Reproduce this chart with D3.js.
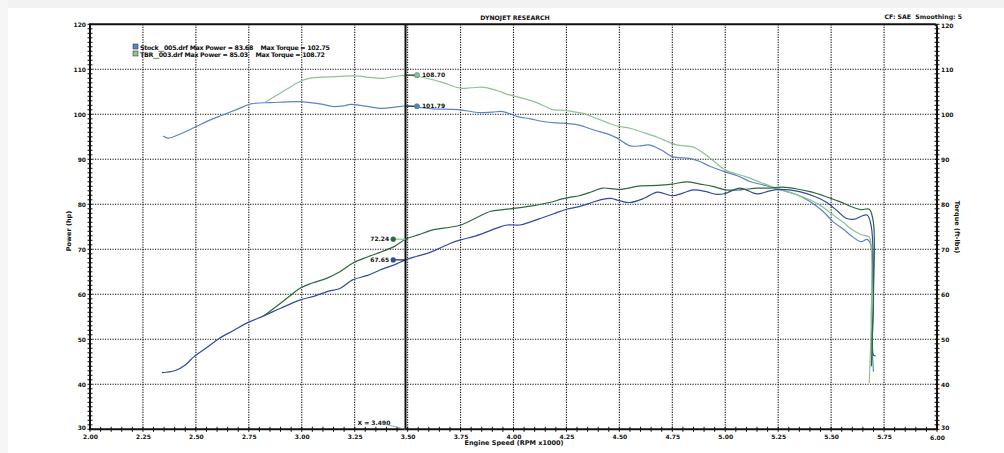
<!DOCTYPE html>
<html><head><meta charset="utf-8">
<script src="https://cdn.jsdelivr.net/npm/d3@7"></script>
<style>
html,body{margin:0;padding:0;background:#fff;}
svg{display:block;font-family:"DejaVu Sans",sans-serif;font-weight:bold;}
</style></head>
<body><svg id="c" width="1004" height="453"></svg>
<script>
// ---------- DATA ----------
const xTicks = [2.00,2.25,2.50,2.75,3.00,3.25,3.50,3.75,4.00,4.25,4.50,4.75,5.00,5.25,5.50,5.75,6.00];
const yTicks = [30,40,50,60,70,80,90,100,110,120];

const stockTorqueRpm = [2.345,2.37,2.42,2.49,2.56,2.63,2.70,2.76,2.85,2.91,2.98,3.04,3.10,3.15,3.20,3.23,3.30,3.38,3.44,3.50,3.56,3.62,3.70,3.75,3.83,3.90,3.95,4.02,4.08,4.14,4.20,4.25,4.31,4.38,4.44,4.49,4.55,4.60,4.64,4.70,4.75,4.83,4.88,4.93,5.00,5.06,5.12,5.19,5.26,5.33,5.40,5.46,5.51,5.56,5.59,5.64,5.67,5.69,5.69,5.695,5.70];
const stockTorque = [95.2,94.7,95.5,97.0,98.6,99.9,101.2,102.3,102.6,102.7,102.8,102.6,102.2,101.7,101.9,102.2,101.8,101.3,101.6,101.9,101.5,101.2,101.1,101.0,100.4,100.5,100.6,99.5,99.0,98.4,98.1,98.0,97.6,96.5,95.7,94.7,93.0,93.0,93.2,92.0,90.6,90.2,89.5,88.4,87.2,86.3,85.0,84.2,83.2,82.3,80.6,78.5,76.1,74.4,73.2,71.7,72.2,70.6,55.0,47.0,42.8];

const tbrTorqueRpm = [2.83,2.88,2.93,2.98,3.02,3.07,3.13,3.20,3.27,3.32,3.38,3.44,3.50,3.55,3.60,3.67,3.75,3.80,3.86,3.92,3.98,4.05,4.11,4.19,4.24,4.28,4.33,4.38,4.44,4.49,4.55,4.61,4.68,4.77,4.85,4.93,5.00,5.05,5.10,5.17,5.24,5.32,5.40,5.46,5.51,5.56,5.59,5.64,5.68,5.69,5.69,5.68];
const tbrTorque = [102.8,104.2,105.6,107.0,107.8,108.2,108.3,108.5,108.5,108.2,108.0,108.4,108.7,108.4,107.9,107.0,105.8,105.9,106.0,105.3,104.3,103.5,102.6,101.0,100.9,100.6,100.2,99.3,98.2,97.4,96.9,96.0,94.9,93.2,92.7,90.2,87.6,86.8,86.1,84.8,83.6,82.4,81.0,79.4,77.6,75.9,74.7,73.3,72.7,70.0,55.0,40.3];

const stockPowerRpm = [2.34,2.40,2.45,2.49,2.55,2.61,2.68,2.74,2.82,2.90,2.99,3.06,3.12,3.18,3.24,3.31,3.38,3.44,3.49,3.54,3.60,3.65,3.70,3.75,3.81,3.86,3.92,3.97,4.03,4.08,4.13,4.19,4.25,4.31,4.37,4.42,4.46,4.50,4.55,4.62,4.68,4.75,4.80,4.85,4.91,4.96,5.00,5.07,5.15,5.21,5.26,5.35,5.42,5.48,5.53,5.57,5.61,5.64,5.67,5.69,5.70,5.70,5.71];
const stockPower = [42.6,43.0,44.3,46.1,48.1,50.2,52.0,53.6,55.2,56.9,58.7,59.6,60.6,61.3,63.2,64.2,65.6,66.6,67.65,68.4,69.2,70.2,71.3,72.1,72.8,73.6,74.7,75.4,75.4,76.1,76.9,77.9,78.9,79.5,80.4,81.1,81.3,80.8,80.4,81.4,82.7,81.9,82.5,83.2,82.8,82.2,82.4,83.6,82.3,83.0,83.3,82.8,81.8,80.4,78.5,76.9,76.7,77.3,77.6,75.0,60.0,46.5,46.3];

const tbrPowerRpm = [2.82,2.88,2.94,2.99,3.05,3.12,3.18,3.24,3.31,3.38,3.44,3.49,3.55,3.62,3.70,3.75,3.82,3.89,3.95,4.00,4.08,4.17,4.23,4.27,4.31,4.37,4.42,4.50,4.60,4.68,4.75,4.82,4.88,4.94,5.00,5.07,5.15,5.21,5.27,5.34,5.40,5.47,5.54,5.60,5.64,5.68,5.70,5.70,5.69];
const tbrPower = [55.2,57.3,59.5,61.3,62.5,63.6,65.0,66.9,68.3,69.5,70.7,72.24,73.2,74.3,74.9,75.4,76.9,78.4,78.8,79.1,79.6,80.4,81.2,81.6,81.9,82.8,83.6,83.3,84.1,84.2,84.5,85.0,84.5,84.0,83.2,83.2,83.6,83.6,83.8,83.4,82.8,81.8,80.6,79.4,78.8,78.9,75.8,60.0,44.0];

const legendLines = ["Stock__005.drf Max Power = 83.68    Max Torque = 102.75",
                     "TBR__003.drf Max Power = 85.03    Max Torque = 108.72"];
const cursorX = 3.490;
const torqueReadouts = [108.70, 101.79];
const powerReadouts = [72.24, 67.65];

// ---------- STYLE ----------
const C = {stockT:"#5a85c6", tbrT:"#8cc48e", stockP:"#2f4d9f", tbrP:"#2d6a3b"};

const svg = d3.select("#c");
svg.append("rect").attr("x",0).attr("y",0).attr("width",1004).attr("height",8).attr("fill","#f2f2f2");
svg.append("rect").attr("x",0).attr("y",0).attr("width",8).attr("height",453).attr("fill","#f6f6f6");

const L=90, R=937, T=24.3, B=429.3;
const x = d3.scaleLinear().domain([2,6]).range([L,R]);
const y = d3.scaleLinear().domain([30,120]).range([B,T]);

// grid
const g = svg.append("g");
g.selectAll(".vg").data(xTicks.slice(1,-1)).join("line")
  .attr("x1",d=>x(d)).attr("x2",d=>x(d)).attr("y1",T).attr("y2",B)
  .attr("stroke","#111").attr("stroke-width",1.1).attr("stroke-dasharray","1.2,1.3");
g.selectAll(".hg").data(yTicks.slice(1,-1)).join("line")
  .attr("x1",L).attr("x2",R).attr("y1",d=>y(d)).attr("y2",d=>y(d))
  .attr("stroke","#111").attr("stroke-width",1.1).attr("stroke-dasharray","1.2,1.3");

// axes
const fmt2 = d3.format(".2f");
const axB = svg.append("g").attr("transform",`translate(0,${B})`)
  .call(d3.axisBottom(x).tickValues(xTicks).tickFormat(fmt2).tickSize(0).tickPadding(4));
const axL = svg.append("g").attr("transform",`translate(${L},0)`)
  .call(d3.axisLeft(y).tickValues(yTicks).tickSize(0).tickPadding(4));
const axR = svg.append("g").attr("transform",`translate(${R},0)`)
  .call(d3.axisRight(y).tickValues(yTicks).tickSize(0).tickPadding(4));
[axB,axL,axR].forEach(a=>{
  a.select(".domain").remove();
  a.selectAll("text").attr("font-family","DejaVu Sans").attr("font-weight","bold").attr("font-size",6).attr("fill","#111");
});
axB.selectAll("text").attr("dy","0.9em");
axR.selectAll("text").attr("dy",d=>d===120?"0.45em":(d===30?"0.1em":"0.32em"));
axL.selectAll("text").attr("dy",d=>d===30?"0.1em":"0.32em");
axB.selectAll(".tick").filter(d=>d===6).select("text").attr("dy","1.2em");

// minor ticks (crossing)
const minorY = d3.range(30,121,1);
const minorX = d3.range(2,6.001,0.05);
svg.append("g").selectAll("line").data(minorY).join("line")
  .attr("x1",L-2.5).attr("x2",L+2.5).attr("y1",d=>y(d)).attr("y2",d=>y(d)).attr("stroke","#111").attr("stroke-width",1);
svg.append("g").selectAll("line").data(minorY).join("line")
  .attr("x1",R-2.5).attr("x2",R+2.5).attr("y1",d=>y(d)).attr("y2",d=>y(d)).attr("stroke","#111").attr("stroke-width",1);
svg.append("g").selectAll("line").data(minorX).join("line")
  .attr("x1",d=>x(d)).attr("x2",d=>x(d)).attr("y1",B-2.5).attr("y2",B+2.5).attr("stroke","#111").attr("stroke-width",1);

// frame
svg.append("path").attr("d",`M${L},${B}V${T}H${R-3}Q${R},${T} ${R},${T+3}V${B}H${L}Z`)
  .attr("fill","none").attr("stroke","#111").attr("stroke-width",2);

// curves
const line = d3.line().x(d=>x(d[0])).y(d=>y(d[1])).curve(d3.curveCatmullRom.alpha(0.5));
const series = [
  [stockTorqueRpm, stockTorque, C.stockT],
  [tbrTorqueRpm, tbrTorque, C.tbrT],
  [stockPowerRpm, stockPower, C.stockP],
  [tbrPowerRpm, tbrPower, C.tbrP]
];
series.forEach(([xs,vs,col])=>{
  svg.append("path").datum(xs.map((v,i)=>[v,vs[i]])).attr("d",line)
    .attr("fill","none").attr("stroke",col).attr("stroke-width",1.2).attr("stroke-linejoin","round");
});

// cursor
svg.append("line").attr("x1",x(cursorX)).attr("x2",x(cursorX)).attr("y1",T).attr("y2",B)
  .attr("stroke","#111").attr("stroke-width",2);

// readouts: torque to the right
const tCols=[C.tbrT,C.stockT], pCols=[C.tbrP,C.stockP];
torqueReadouts.forEach((v,i)=>{
  const mx = x(3.544);
  svg.append("line").attr("x1",x(cursorX)).attr("x2",mx).attr("y1",y(v)).attr("y2",y(v)).attr("stroke","#333").attr("stroke-width",1.2);
  svg.append("circle").attr("cx",mx).attr("cy",y(v)).attr("r",2.6).attr("fill",tCols[i]).attr("stroke","#3a5a6a").attr("stroke-width",0.5);
  svg.append("text").attr("x",mx+5).attr("y",y(v)+2.2).attr("font-size",6).attr("fill","#111").text(fmt2(v));
});
powerReadouts.forEach((v,i)=>{
  const mx = x(3.432);
  svg.append("line").attr("x1",mx).attr("x2",x(cursorX)).attr("y1",y(v)).attr("y2",y(v)).attr("stroke",i===0?C.tbrT:"#222").attr("stroke-width",1.2);
  svg.append("circle").attr("cx",mx).attr("cy",y(v)).attr("r",2.6).attr("fill",pCols[i]);
  svg.append("text").attr("x",mx-4).attr("y",y(v)+2.2).attr("font-size",6).attr("fill","#111").attr("text-anchor","end").text(fmt2(v));
});

// cursor label
svg.append("text").attr("x",x(cursorX)-48).attr("y",425).attr("font-size",6).attr("fill","#111").text("X = " + d3.format(".3f")(cursorX));
svg.append("line").attr("x1",x(cursorX)-25).attr("y1",423).attr("x2",x(cursorX)).attr("y2",B).attr("stroke","#6a9a9a").attr("stroke-width",0.8);

// legend
const legendWidths = [190, 185];
legendLines.forEach((t,i)=>{
  svg.append("rect").attr("x",133).attr("y",44+i*7).attr("width",5).attr("height",5)
    .attr("fill",i===0?C.stockT:C.tbrT).attr("stroke","#223").attr("stroke-width",0.5);
  svg.append("text").attr("x",140).attr("y",49.5+i*7).attr("font-size",6.3).attr("fill","#111")
    .attr("textLength",legendWidths[i]).attr("lengthAdjust","spacing")
    .style("white-space","pre").text(t);
});

// titles
svg.append("text").attr("x",515).attr("y",20).attr("text-anchor","middle").attr("font-size",6.2).attr("fill","#111").text("DYNOJET RESEARCH");
svg.append("text").attr("x",962).attr("y",19).attr("text-anchor","end").attr("font-size",6.2).attr("fill","#111").style("white-space","pre").text("CF: SAE  Smoothing: 5");
svg.append("text").attr("transform","translate(71,231) rotate(-90)").attr("text-anchor","middle").attr("font-size",6.5).attr("fill","#111").text("Power (hp)");
svg.append("text").attr("transform","translate(955,227) rotate(90)").attr("text-anchor","middle").attr("font-size",6.5).attr("fill","#111").text("Torque (ft-lbs)");
svg.append("text").attr("x",514).attr("y",445).attr("text-anchor","middle").attr("font-size",6.5).attr("fill","#111").text("Engine Speed (RPM x1000)");
</script></body></html>
